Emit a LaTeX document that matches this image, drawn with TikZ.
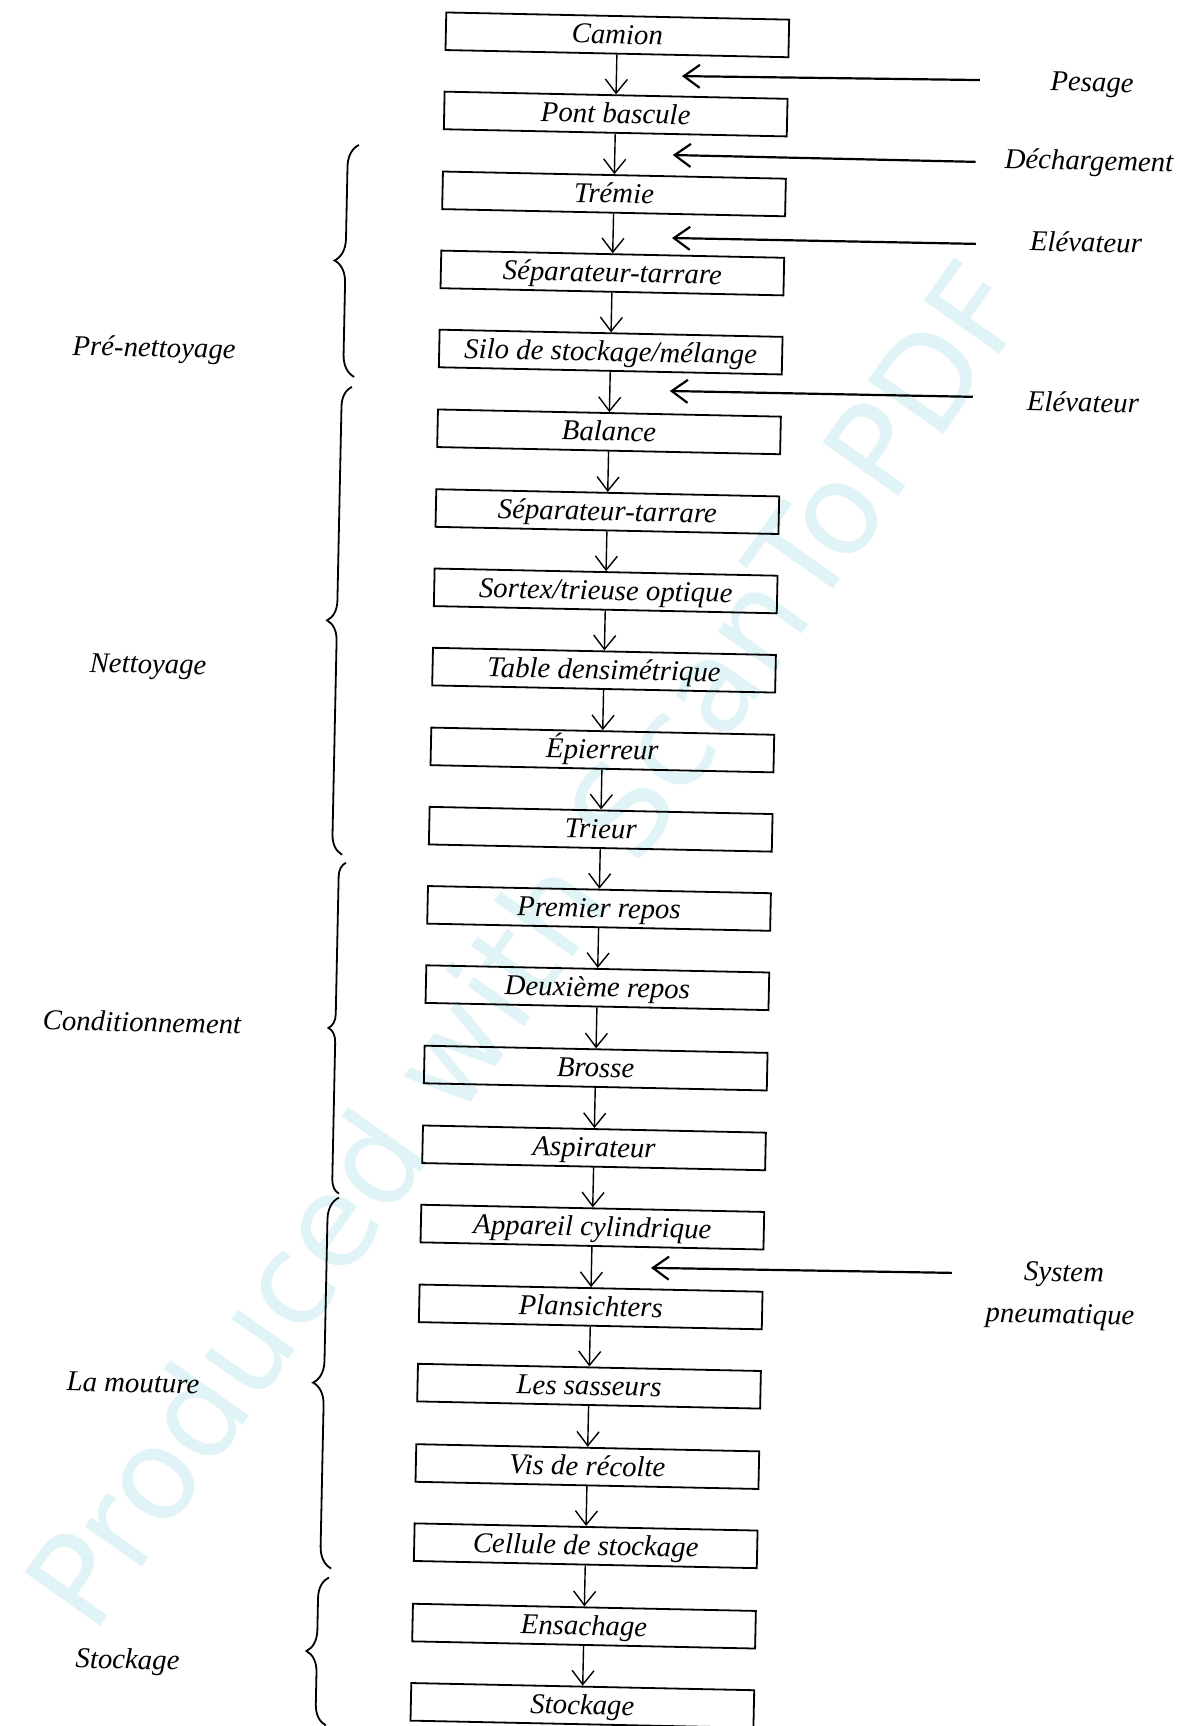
\documentclass[tikz,border=0pt]{standalone}
\usepackage{fontspec}
\setmainfont{Liberation Serif}
\newfontfamily\wmfont{DejaVu Sans}
\usetikzlibrary{arrows.meta,decorations.pathreplacing}
\definecolor{wmcol}{RGB}{224,244,247}
\begin{document}
\begin{tikzpicture}[x=0.5pt,y=-0.5pt,
  txt/.style={font=\fontsize{14.4}{17}\selectfont\itshape},
  stepbox/.style={txt, draw, line width=0.9pt, minimum width=171.5pt, minimum height=18.8pt,
    inner sep=0pt, text height=12pt, text depth=3pt, transform shape},
  flow/.style={line width=0.7pt, -{Straight Barb[length=7pt,width=11pt]}},
  side/.style={line width=1.1pt, -{Straight Barb[length=8pt,width=11.5pt]}},
  lab/.style={txt, inner sep=0pt, transform shape},
  grp/.style={decorate, decoration={brace, amplitude=#1}, line width=0.9pt},
  grp/.default=11pt
]
\useasboundingbox (0,0) rectangle (1188,1726);
\clip (0,0) rectangle (1188,1726);
\fill[white] (0,0) rectangle (1188,1726);
% watermark
\node[font=\wmfont\fontsize{63.5}{70}\selectfont, text=wmcol, rotate=54.75,
      anchor=base west, inner sep=0pt] (wm) at (92.8,1637.2) {Produced with ScanToPDF};

\begin{scope}[rotate around={-1.2:(594,863)}]
% boxes
\node[stepbox] (b1)  at (600,34.5)   {Camion};
\node[stepbox] (b2)  at (600,113.7)  {Pont bascule};
\node[stepbox] (b3)  at (600,193.6)  {Trémie};
\node[stepbox] (b4)  at (600,272.7)  {Séparateur-tarrare};
\node[stepbox] (b5)  at (600,351.8)  {Silo de stockage/mélange};
\node[stepbox] (b6)  at (600,431.6)  {Balance};
\node[stepbox] (b7)  at (600,511.4)  {Séparateur-tarrare};
\node[stepbox] (b8)  at (600,590.7)  {Sortex/trieuse optique};
\node[stepbox] (b9)  at (600,670.0)  {Table densimétrique};
\node[stepbox] (b10) at (600,749.8)  {Épierreur};
\node[stepbox] (b11) at (600,829.1)  {Trieur};
\node[stepbox] (b12) at (600,908.3)  {Premier repos};
\node[stepbox] (b13) at (600,987.6)  {Deuxième repos};
\node[stepbox] (b14) at (600,1068.0) {Brosse};
\node[stepbox] (b15) at (600,1147.8) {Aspirateur};
\node[stepbox] (b16) at (600,1227.1) {Appareil cylindrique};
\node[stepbox] (b17) at (600,1306.9) {Plansichters};
\node[stepbox] (b18) at (600,1386.2) {Les sasseurs};
\node[stepbox] (b19) at (600,1466.6) {Vis de récolte};
\node[stepbox] (b20) at (600,1545.8) {Cellule de stockage};
\node[stepbox] (b21) at (600,1626.2) {Ensachage};
\node[stepbox] (b22) at (600,1705.5) {Stockage};
% vertical arrows
\foreach \i [count=\j from 2] in {1,...,21}
  \draw[flow] (b\i.south) -- (b\j.north);

% side inputs
\coordinate (p1) at (963.5,72.1);  \coordinate (q1) at (665.5,74.4);
\coordinate (p2) at (961,154);     \coordinate (q2) at (658,153.5);
\coordinate (p3) at (963,236);     \coordinate (q3) at (659,236.5);
\coordinate (p4) at (963,389);     \coordinate (q4) at (660,389.5);
\coordinate (p5) at (960.5,1265.4);\coordinate (q5) at (659.5,1266.7);
\foreach \k in {1,...,5} \draw[side] (p\k) -- (q\k);

\node[lab] (l1) at (1075.6,74.8)  {Pesage};
\node[lab] (l2) at (1074.2,152.8) {Déchargement};
\node[lab] (l3) at (1072.9,232)   {Elévateur};
\node[lab] (l4) at (1073.2,392)   {Elévateur};
\node[lab] (l5) at (1072.5,1265)  {System};
\node[lab] (l6) at (1069.4,1307)  {pneumatique};

% braces
\coordinate (g1a) at (344,382);  \coordinate (g1b) at (344,150);
\coordinate (g2a) at (342,860);  \coordinate (g2b) at (342,392);
\coordinate (g3a) at (346,1199); \coordinate (g3b) at (346,868);
\coordinate (g4a) at (346,1574); \coordinate (g4b) at (346,1203);
\coordinate (g5a) at (344,1731); \coordinate (g5b) at (344,1583);
\draw[grp] (g1a) -- (g1b);
\draw[grp=10pt] (g2a) -- (g2b);
\draw[grp=7pt] (g3a) -- (g3b);
\draw[grp] (g4a) -- (g4b);
\draw[grp=10.5pt] (g5a) -- (g5b);

\node[lab] (n1) at (143.4,359.3)  {Pré-nettoyage};
\node[lab] (n2) at (144,676.3)    {Nettoyage};
\node[lab] (n3) at (145.4,1031.5) {Conditionnement};
\node[lab] (n4) at (144,1392.6)   {La mouture};
\node[lab] (n5) at (144.3,1671.6) {Stockage};
\end{scope}
\end{tikzpicture}
\end{document}
